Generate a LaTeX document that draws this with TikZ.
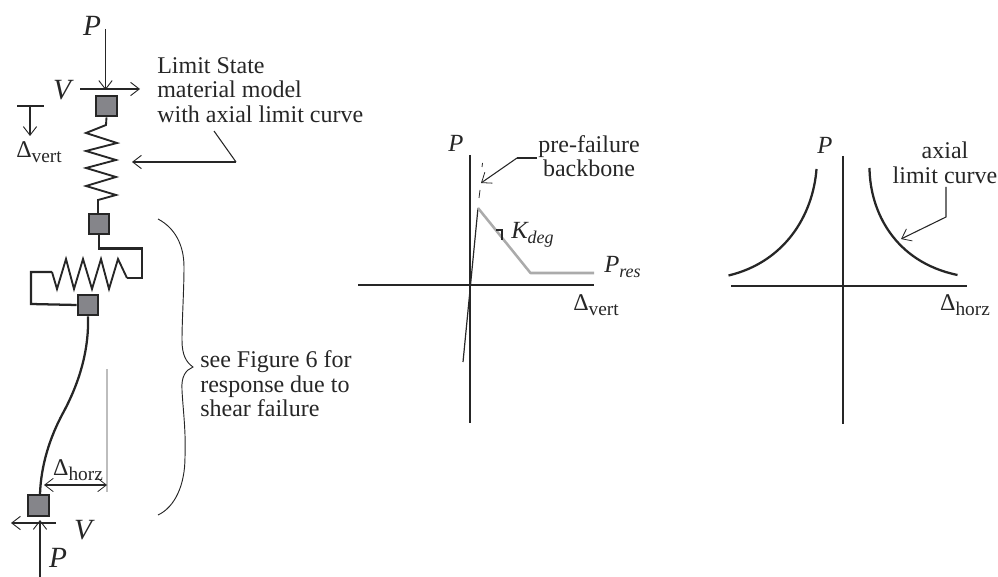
\documentclass[tikz,border=0pt]{standalone}
\usepackage{fontspec}
\setmainfont{Liberation Serif}
\usepackage{tikz}
\usetikzlibrary{arrows.meta,calc}
\definecolor{ink}{HTML}{262626}
\definecolor{blockfill}{HTML}{85858A}
\definecolor{backbone}{HTML}{ABABAB}
\definecolor{hair}{HTML}{BDBDBD}
\newcommand{\dlt}[1]{Δ\raisebox{-.42ex}{\fontsize{14.5}{15}\selectfont #1}}
\newcommand{\sbs}[1]{\raisebox{-.42ex}{\fontsize{13.5}{14}\selectfont #1}}
\tikzset{
  every node/.style={text=ink},
  block/.style={draw=ink, fill=blockfill, line width=1.4pt, minimum size=15.6pt,
    inner sep=0pt},
  note/.style={font=\fontsize{18}{18.4}\selectfont, align=left, inner sep=0pt},
  symb/.style={font=\fontsize{22}{24}\selectfont\itshape, inner sep=0pt},
  plotsymb/.style={font=\fontsize{18.5}{20}\selectfont\itshape, inner sep=0pt},
  disp/.style={font=\fontsize{18}{20}\selectfont, inner sep=0pt},
  member/.style={draw=ink, line width=1.7pt, line join=miter},
  spring/.style={draw=ink, line width=1.4pt, line join=miter},
  axis/.style={draw=ink, line width=1.4pt},
  limitcurve/.style={draw=ink, line width=1.7pt},
  load/.style={-{Straight Barb[length=6.5pt,width=10pt,line width=.7pt]}, draw=ink, line width=1.2pt},
  leader/.style={-{Straight Barb[length=6.5pt,width=10pt,line width=.6pt]}, draw=ink, line width=.8pt}
}
\begin{document}
\begin{tikzpicture}[x=.75pt,y=-.75pt]
\useasboundingbox (0,0) rectangle (998,577);

% ---------------------------------------------------------------------------
% Left: column model with springs and loads.
% ---------------------------------------------------------------------------
\node[block] (top) at (106.5,106) {};
\node[block] (mid) at (99,224) {};
\node[block] (low) at (88,305) {};
\node[block] (base) at (38.5,505.5) {};

\node[symb] (ptop) at (92,26) {P};
\node[symb] (vtop) at (62,90) {V};
\node[symb] (vbase) at (83,530) {V};
\node[symb] (pbase) at (58,558) {P};

\coordinate (ptopstart) at (105.5,29);
\coordinate (ptopend) at (105.5,90);
\coordinate (vtopstart) at (80,89);
\coordinate (vtopend) at (140,89);
\draw[load] (ptopstart) -- (ptopend);
\draw[load] (vtopstart) -- (vtopend);

\coordinate (vbasestart) at (56,523);
\coordinate (vbaseend) at (11,523);
\coordinate (pbasestart) at (40,577);
\coordinate (pbaseend) at (40,520);
\draw[load] (vbasestart) -- (vbaseend);
\draw[load] (pbasestart) -- (pbaseend);

% Vertical displacement key.
\coordinate (barleft) at (17,106);
\coordinate (barright) at (44,106);
\coordinate (barmid) at (30,106);
\coordinate (barend) at (30,136);
\draw[axis, line width=1.1pt] (barleft) -- (barright);
\draw[load, line width=.9pt] (barmid) -- (barend);
\node[disp] (dvertkey) at (39,152) {\dlt{vert}};

% Axial spring and its callout.
\draw[spring] (top.south) -- (106,125) -- (86,133) -- (117,143) -- (86,151)
  -- (116,160) -- (86,168) -- (116,177) -- (86,186) -- (116,195) -- (98,200)
  -- (98,213);

\node[note, anchor=west] (limitnote) at (157,90)
  {Limit State\\material model\\with axial limit curve};
\coordinate (calloutstart) at (214,131);
\coordinate (calloutbend) at (236,162);
\coordinate (calloutend) at (132,162);
\draw[ink, line width=.8pt] (calloutstart) -- (calloutbend);
\draw[load] (calloutbend) -- (calloutend);

% Shear spring loop.
\draw[member] (mid.south) -- (99,248.5) -- (142,248.5) -- (142,278) -- (127,278);
\draw[spring] (127,278) -- (118,259) -- (109,289) -- (101,259) -- (92,289)
  -- (83,259) -- (74,289) -- (66,259) -- (57,289) -- (52,272);
\draw[member] (52,272) -- (31,272) -- (31,304) -- (low.west);

% Deflected column.
\draw[member] (low.south) .. controls (89,345) and (82,378) .. (63,413)
  .. controls (50,437) and (41,465) .. (40,494);

% Horizontal displacement key.
\coordinate (horzup) at (107,369);
\coordinate (horzdown) at (107,492);
\coordinate (horzleft) at (44,485);
\coordinate (horzright) at (107,485);
\draw[hair, line width=.8pt] (horzup) -- (horzdown);
\draw[{Straight Barb[length=6.5pt,width=10pt,line width=.6pt]}-{Straight Barb[length=6.5pt,width=10pt,line width=.6pt]}, draw=ink, line width=.9pt]
  (horzleft) -- (horzright);
\node[disp] (dhorzkey) at (78,470) {\dlt{horz}};

% Brace over the shear part.
\coordinate (bracetop) at (158,219);
\coordinate (bracetip) at (193,367);
\coordinate (bracebot) at (158,515);
\draw[ink, line width=.7pt] (bracetop) .. controls (175,228) and (184,245) .. (184,267)
  .. controls (184,290) and (182,320) .. (182,340)
  .. controls (182,355) and (186,362) .. (bracetip)
  .. controls (186,370) and (181,376) .. (182,390)
  .. controls (183,410) and (186,430) .. (185,457)
  .. controls (185,485) and (175,507) .. (bracebot);
\node[note, anchor=west] (shearnote) at (200,384)
  {see Figure 6 for\\response due to\\shear failure};

% ---------------------------------------------------------------------------
% Middle: axial response.
% ---------------------------------------------------------------------------
\coordinate (ax1west) at (358,285);
\coordinate (ax1east) at (594,285);
\coordinate (ax1north) at (470,155);
\coordinate (ax1south) at (470,423);
\draw[axis] (ax1west) -- (ax1east);
\draw[axis] (ax1north) -- (ax1south);

\coordinate (stiffend) at (463,362);
\coordinate (peak) at (478,208);
\coordinate (soften) at (530.5,273);
\coordinate (resend) at (594,273);
\draw[ink, line width=.9pt] (stiffend) -- (peak);
\draw[backbone, line width=1.9pt, line join=round] (peak) -- (soften) -- (resend);
\draw[ink, line width=.6pt] (482.5,163) -- (482,167);
\draw[ink, line width=.6pt] (480,190) -- (479,198);

\coordinate (slopea) at (496,230);
\coordinate (slopeb) at (502,230);
\coordinate (slopec) at (502,240);
\draw[ink, line width=1.2pt] (slopea) -- (slopeb) -- (slopec);

\node[plotsymb] (paxis1) at (456,143) {P};
\node[note, align=center] (prefail) at (589,156) {pre-failure\\backbone};
\coordinate (prestart) at (537,158);
\coordinate (prebend) at (517,158);
\coordinate (preend) at (481,183);
\draw[ink, line width=1.4pt] (prestart) -- (prebend);
\draw[leader] (prebend) -- (preend);
\node[plotsymb, anchor=west] (kdeg) at (511,235) {K\sbs{deg}};
\node[plotsymb, anchor=west] (pres) at (604,267) {P\sbs{res}};
\node[disp] (dvert) at (596,305) {\dlt{vert}};

% ---------------------------------------------------------------------------
% Right: axial limit curve.
% ---------------------------------------------------------------------------
\coordinate (ax2west) at (731,286);
\coordinate (ax2east) at (967,286);
\coordinate (ax2north) at (843,156);
\coordinate (ax2south) at (843,424);
\draw[axis] (ax2west) -- (ax2east);
\draw[axis] (ax2north) -- (ax2south);

\draw[limitcurve] (816.5,169) .. controls (813,215) and (785,262) .. (728.5,275.5);
\draw[limitcurve] (869.5,168) .. controls (870,212) and (895,262) .. (957.5,275);

\node[plotsymb] (paxis2) at (825,145) {P};
\node[note, align=center] (axialnote) at (945,163) {axial\\limit curve};
\coordinate (axstart) at (946,187);
\coordinate (axbend) at (946,217);
\coordinate (axend) at (901,239);
\draw[leader] (axstart) -- (axbend) -- (axend);
\node[disp] (dhorz) at (965,305) {\dlt{horz}};

\end{tikzpicture}
\end{document}
